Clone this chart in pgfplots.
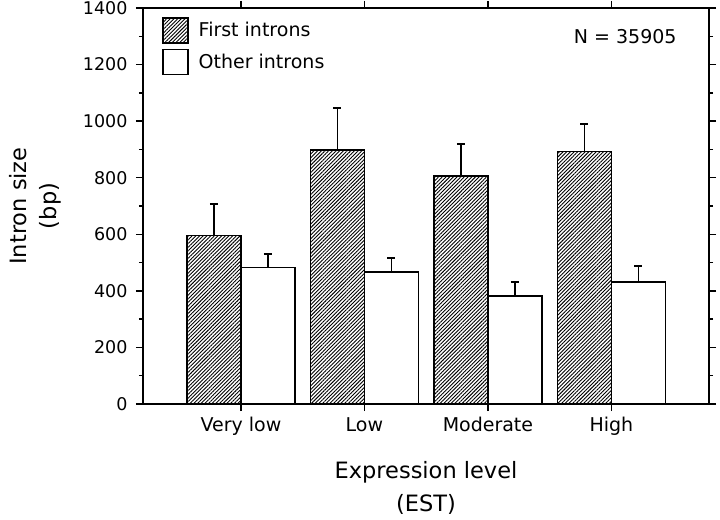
\documentclass[border=0pt]{standalone}
\usepackage{pgfplots}
\pgfplotsset{compat=1.18}
\usepackage{fontspec}
\setmainfont{DejaVu Sans}
\usetikzlibrary{patterns.meta}
\pgfplotstableread{
x first ferr other oerr
0 595 111 482 48
1 898 147 467 48
2 806 114 382 48
3 892 99 431 56
}\datatable
\begin{document}
\begin{tikzpicture}
\begin{axis}[
  at={(0,0)}, anchor=south west,
  scale only axis, width=566bp, height=396bp,
  xmin=-0.793, xmax=3.79, ymin=0, ymax=1400,
  ybar=0pt, bar width=0.437,
  xtick={0,1,2,3},
  xticklabels={Very low,Low,Moderate,High},
  ytick={0,200,...,1400},
  minor ytick={100,300,...,1300},
  tick align=outside,
  major tick length=7bp, minor tick length=4bp,
  tick style={black, line width=1.5bp},
  axis line style={line width=1.8bp},
  /pgf/number format/assume math mode=true,
  /pgf/number format/1000 sep={},
  xticklabel style={font=\fontsize{19bp}{22bp}\selectfont, yshift=-3bp},
  yticklabel style={font=\fontsize{17.5bp}{20bp}\selectfont, xshift=-5bp},
  xlabel={Expression level\\(EST)},
  ylabel={Intron size\\(bp)},
  xlabel style={font=\fontsize{22.5bp}{33bp}\selectfont, align=center, at={(axis description cs:0.5,-0.136)}, anchor=north},
  ylabel style={font=\fontsize{22.5bp}{30bp}\selectfont, align=center, at={(axis description cs:-0.139,0.5)}, anchor=south},
  legend image code/.code={\draw[#1, line width=1.5bp] (0bp,-12.5bp) rectangle (25bp,12.5bp);},
  legend style={at={(rel axis cs:0,1)}, anchor=north west, xshift=19bp, yshift=-9bp,
    draw=none, fill=none, inner sep=0pt, row sep=5bp, column sep=10bp,
    font=\fontsize{19bp}{22bp}\selectfont,
    nodes={inner sep=0pt, anchor=west}},
  legend cell align=left,
  error bars/y dir=plus, error bars/y explicit,
  error bars/error bar style={line width=1.5bp, black},
  error bars/error mark options={rotate=90, mark size=4bp, line width=2bp, black},
  clip=false,
]
\addplot[draw=black, line width=1.5bp, fill=white, postaction={pattern={Lines[angle=45,distance=2.6bp,line width=0.9bp]}}]
  table[x=x, y=first, y error=ferr] {\datatable};
\addlegendentry{First introns}
\addplot[draw=black, line width=1.5bp, fill=white]
  table[x=x, y=other, y error=oerr] {\datatable};
\addlegendentry{Other introns}
\node[font=\fontsize{19bp}{22bp}\selectfont] at (rel axis cs:0.852,0.927) {N = 35905};
\end{axis}
\pgfresetboundingbox
\path[use as bounding box] (-143bp,-116bp) rectangle (577bp,404bp);
\end{tikzpicture}
\end{document}
